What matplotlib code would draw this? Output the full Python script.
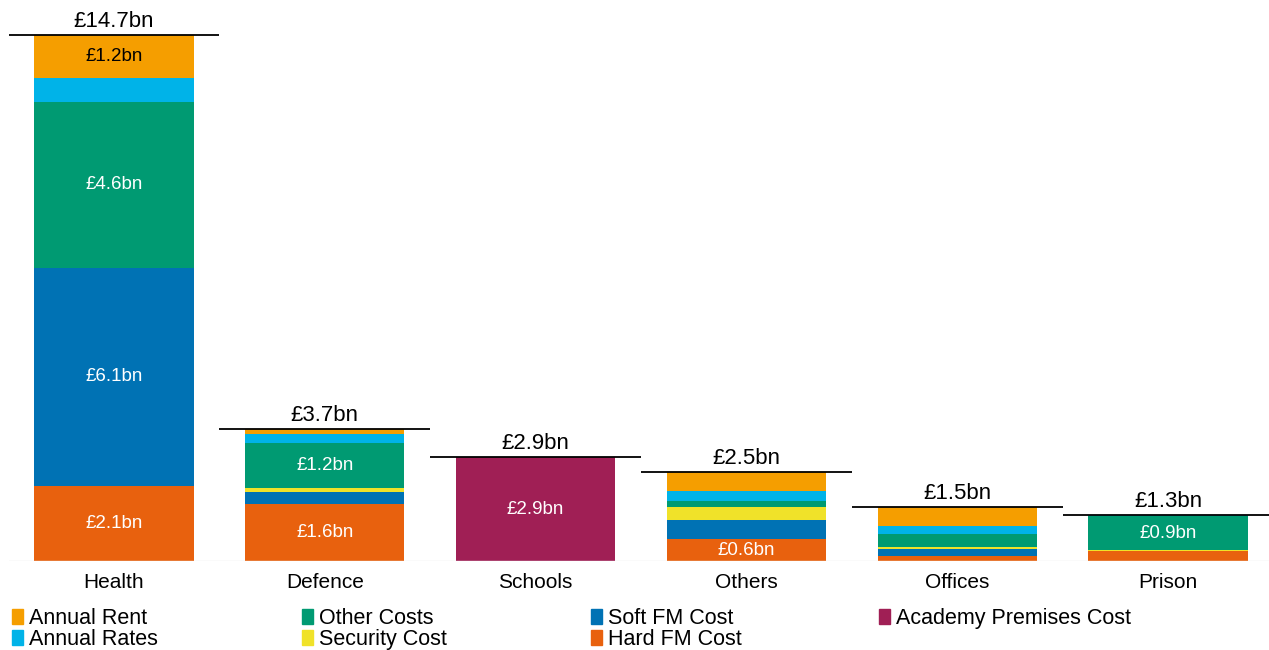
import matplotlib
matplotlib.use("Agg")
import matplotlib.pyplot as plt
import matplotlib.patches as mpatches
import numpy as np

plt.rcParams['font.family'] = ['Liberation Sans', 'DejaVu Sans']

categories = ['Health', 'Defence', 'Schools', 'Others', 'Offices', 'Prison']

# cost components in £bn, stacked bottom to top
hard_fm = [2.1, 1.6, 0.0, 0.61, 0.14, 0.28]
soft_fm = [6.1, 0.33, 0.0, 0.53, 0.20, 0.0]
security = [0.0, 0.11, 0.0, 0.36, 0.06, 0.03]
other_costs = [4.64, 1.25, 0.0, 0.17, 0.36, 0.94]
annual_rates = [0.66, 0.27, 0.0, 0.28, 0.23, 0.03]
annual_rent = [1.2, 0.13, 0.0, 0.54, 0.53, 0.0]
academy = [0.0, 0.0, 2.9, 0.0, 0.0, 0.0]

series = [
    ('Hard FM Cost', hard_fm, '#e8610e'),
    ('Soft FM Cost', soft_fm, '#0072b4'),
    ('Security Cost', security, '#f0e229'),
    ('Other Costs', other_costs, '#009a72'),
    ('Annual Rates', annual_rates, '#00b3e8'),
    ('Annual Rent', annual_rent, '#f59e00'),
    ('Academy Premises Cost', academy, '#a01f55'),
]
colours = {name: c for name, _, c in series}

# segments that carry a value label
labelled = {
    'Health': ['Hard FM Cost', 'Soft FM Cost', 'Other Costs', 'Annual Rent'],
    'Defence': ['Hard FM Cost', 'Other Costs'],
    'Schools': ['Academy Premises Cost'],
    'Others': ['Hard FM Cost'],
    'Offices': [],
    'Prison': ['Other Costs'],
}

fig = plt.figure(figsize=(12.69, 6.5), dpi=100)
ax = fig.add_axes([8.6 / 1269, 89 / 650, 1264.8 / 1269, 561 / 650])

x = np.arange(len(categories))
bottom = np.zeros(len(categories))
for name, vals, col in series:
    vals = np.array(vals)
    ax.bar(x, vals, 0.755, bottom=bottom, color=col, linewidth=0)
    for i, cat in enumerate(categories):
        if name in labelled[cat]:
            tc = 'black' if name == 'Annual Rent' else 'white'
            ax.text(x[i], bottom[i] + vals[i] / 2, f'£{vals[i]:.1f}bn',
                    ha='center', va='center', color=tc, fontsize=13.5)
    bottom += vals

# total markers above each bar
for i, tot in enumerate(bottom):
    ax.plot([x[i] - 0.5, x[i] + 0.5], [tot, tot], color='black', lw=1.3,
            clip_on=False, solid_capstyle='butt')
    ax.text(x[i], tot + 0.08, f'£{tot:.1f}bn', ha='center', va='bottom',
            fontsize=16, color='black')

ax.axhline(0, color='#e6e6e6', lw=1)
ax.set_xlim(-0.5, len(categories) - 0.5)
ax.set_ylim(0, 561 / (526 / 14.7))
ax.set_xticks(x)
ax.set_xticklabels(categories, fontsize=15)
ax.tick_params(axis='x', length=0, pad=9)
ax.set_yticks([])
for s in ax.spines.values():
    s.set_visible(False)

# legend in four fixed columns
legend_cols = [
    ['Annual Rent', 'Annual Rates'],
    ['Other Costs', 'Security Cost'],
    ['Soft FM Cost', 'Hard FM Cost'],
    ['Academy Premises Cost'],
]
col_x = [12, 302, 591, 879]
for names, lx in zip(legend_cols, col_x):
    handles = [mpatches.Patch(color=colours[n], label=n) for n in names]
    fig.legend(handles=handles, loc='upper left',
               bbox_to_anchor=(lx / 1269, 1 - 608 / 650), frameon=False,
               fontsize=15.5, handlelength=0.5, handleheight=0.7,
               handletextpad=0.3, labelspacing=0.02, borderpad=0,
               borderaxespad=0)

fig.savefig('out.png', dpi=100)
